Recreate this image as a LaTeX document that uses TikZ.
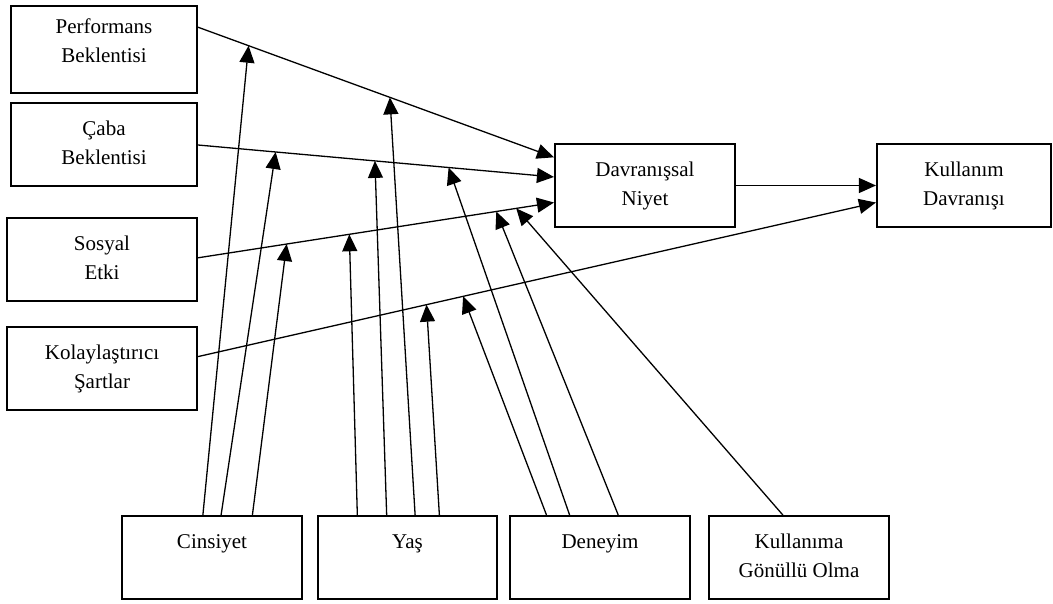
\documentclass[tikz,border=0pt]{standalone}
\usepackage{fontspec}
\setmainfont{Liberation Serif}
\usetikzlibrary{arrows.meta,calc}
\begin{document}
\begin{tikzpicture}[x=1pt,y=-1pt,
  box/.style={draw, line width=2.1pt, rectangle, align=center, inner sep=0pt,
              font=\fontsize{21}{29}\selectfont},
  conn/.style={line width=1.3pt, -{Triangle[length=17pt,width=15pt]}}]
\fill[white] (0,0) rectangle (1053,604);
\useasboundingbox (0,0) rectangle (1053,604);

% left boxes
\node[box, minimum width=186pt, minimum height=87pt] (pe) at (104,49.5) {\strut Performans\\\strut Beklentisi\\[-6pt]};
\node[box, minimum width=186pt, minimum height=83pt] (ce) at (104,144.5) {\strut Çaba\\\strut Beklentisi};
\node[box, minimum width=190pt, minimum height=83pt] (se) at (102,259.5) {\strut Sosyal\\\strut Etki};
\node[box, minimum width=190pt, minimum height=83pt] (ks) at (102,368.5) {\strut Kolaylaştırıcı\\\strut Şartlar};
% right boxes
\node[box, minimum width=180pt, minimum height=83pt] (niyet) at (645,185.5) {\strut Davranışsal\\\strut Niyet};
\node[box, minimum width=174pt, minimum height=83pt] (kd) at (964,185.5) {\strut Kullanım\\\strut Davranışı};
% bottom boxes
\node[box, minimum width=180pt, minimum height=83pt] (cin) at (212,557.5) {\strut Cinsiyet\\\strut};
\node[box, minimum width=179pt, minimum height=83pt] (yas) at (407.5,557.5) {\strut Yaş\\\strut};
\node[box, minimum width=180pt, minimum height=83pt] (den) at (600,557.5) {\strut Deneyim\\\strut};
\node[box, minimum width=180pt, minimum height=83pt] (gon) at (799,557.5) {\strut Kullanıma\\\strut Gönüllü Olma};

% main connectors
\draw[conn] ($(pe.north east)!0.25!(pe.south east)$) -- ($(niyet.north west)!0.169!(niyet.south west)$)
  coordinate[pos=0.142] (m1) coordinate[pos=0.539] (m2);
\draw[conn] ($(ce.north east)!0.506!(ce.south east)$) -- ($(niyet.north west)!0.40!(niyet.south west)$)
  coordinate[pos=0.218] (m3) coordinate[pos=0.497] (m4) coordinate[pos=0.704] (m5);
\draw[conn] ($(se.north east)!0.48!(se.south east)$) -- ($(niyet.north west)!0.70!(niyet.south west)$)
  coordinate[pos=0.249] (m6) coordinate[pos=0.425] (m7) coordinate[pos=0.838] (m8) coordinate[pos=0.894] (m9);
\draw[conn] ($(ks.north east)!0.36!(ks.south east)$) -- ($(kd.north west)!0.70!(kd.south west)$)
  coordinate[pos=0.337] (m10) coordinate[pos=0.391] (m11);
\draw[conn] (niyet.east) -- (kd.west);

% moderators
\draw[conn] ($(cin.north west)!0.45!(cin.north east)$) -- (m1);
\draw[conn] ($(cin.north west)!0.55!(cin.north east)$) -- (m3);
\draw[conn] ($(cin.north west)!0.722!(cin.north east)$) -- (m6);
\draw[conn] ($(yas.north west)!0.223!(yas.north east)$) -- (m7);
\draw[conn] ($(yas.north west)!0.385!(yas.north east)$) -- (m4);
\draw[conn] ($(yas.north west)!0.542!(yas.north east)$) -- (m2);
\draw[conn] ($(yas.north west)!0.676!(yas.north east)$) -- (m10);
\draw[conn] ($(den.north west)!0.206!(den.north east)$) -- (m11);
\draw[conn] ($(den.north west)!0.333!(den.north east)$) -- (m5);
\draw[conn] ($(den.north west)!0.60!(den.north east)$) -- (m8);
\draw[conn] ($(gon.north west)!0.411!(gon.north east)$) -- (m9);
\end{tikzpicture}
\end{document}
